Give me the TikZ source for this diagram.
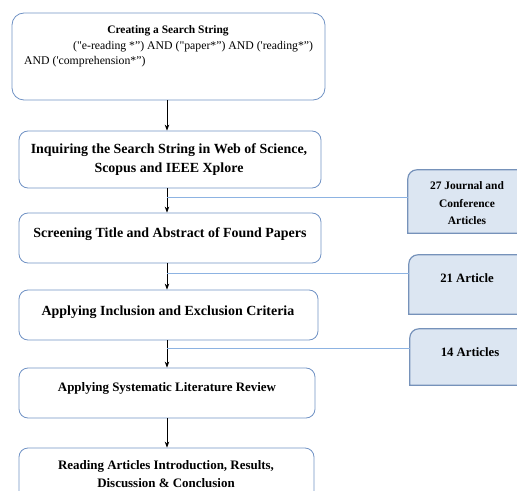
\documentclass[tikz,border=0pt]{standalone}
\usepackage{fontspec}
\setmainfont{Liberation Serif}[Ligatures=TeXOff]
\usetikzlibrary{arrows.meta}
\definecolor{boxc}{RGB}{112,146,196}
\definecolor{linec}{RGB}{141,179,226}
\definecolor{rboxc}{RGB}{118,146,186}
\definecolor{rfill}{RGB}{220,230,242}
\begin{document}
\begin{tikzpicture}[x=1bp,y=-1bp,
 box/.style={draw=boxc, line width=0.8bp, rounded corners=9bp, inner sep=0},
 txt/.style={font=\bfseries\fontsize{14}{19}\selectfont, align=center, inner sep=0},
 stxt/.style={font=\fontsize{11.8}{15.5}\selectfont, inner sep=0},
 arr/.style={-{Stealth[length=6bp,width=4.5bp]}, line width=0.8bp},
 link/.style={draw=linec, line width=1bp},
 rbox/.style={draw=rboxc, fill=rfill, line width=1.2bp},
 rtxt/.style={font=\bfseries\fontsize{11.5}{17.5}\selectfont, align=center, inner sep=0}]
\useasboundingbox (0,0) rectangle (517,491);
\clip (0,0) rectangle (517,491);

% main boxes
\node[box, rounded corners=12bp, minimum width=313bp, minimum height=87bp] (b1) at (168.5,56.5) {};
\node[box, minimum width=302bp, minimum height=57bp] (b2) at (170,159.5) {};
\node[box, minimum width=302bp, minimum height=50bp] (b3) at (170,238) {};
\node[box, minimum width=299bp, minimum height=50bp] (b4) at (168.5,315) {};
\node[box, minimum width=296bp, minimum height=50bp] (b5) at (167,393) {};
\node[box, minimum width=295bp, minimum height=52bp] (b6) at (166.5,474) {};

% texts
\node[stxt, font=\bfseries\fontsize{11.5}{15.5}\selectfont] (t1a) at (168,31) {Creating a Search String};
\node[stxt, anchor=west] (t1b) at (73,47) {("e-reading *”) AND ("paper*”) AND ('reading*”)};
\node[stxt, anchor=west] (t1c) at (24,62) {AND ('comprehension*”)};
\node[txt] (t2) at (169,159.5) {Inquiring the Search String in Web of Science,\\Scopus and IEEE Xplore};
\node[txt] (t3) at (170,234) {Screening Title and Abstract of Found Papers};
\node[txt] (t4) at (168,312) {Applying Inclusion and Exclusion Criteria};
\node[txt, font=\bfseries\fontsize{13}{18}\selectfont] (t5) at (167,388) {Applying Systematic Literature Review};
\node[txt, font=\bfseries\fontsize{13}{18}\selectfont] (t6) at (166,474) {Reading Articles Introduction, Results,\\Discussion \& Conclusion};

% arrows
\coordinate (ax) at (167,0);
\draw[arr] (b1.south -| ax) -- (b2.north -| ax);
\draw[arr] (b2.south -| ax) -- (b3.north -| ax);
\draw[arr] (b3.south -| ax) -- (b4.north -| ax);
\draw[arr] (b4.south -| ax) -- (b5.north -| ax);
\draw[arr] (b5.south -| ax) -- (b6.north -| ax);

% right boxes
\node[minimum width=122bp, minimum height=63bp, inner sep=0] (bA) at (469,201.5) {};
\node[minimum width=121bp, minimum height=59bp, inner sep=0] (bB) at (469.5,284.5) {};
\node[minimum width=120bp, minimum height=56bp, inner sep=0] (bC) at (470,357) {};
\foreach \b in {bA,bB,bC}{
  \draw[rbox] (\b.south west) -- ([yshift=-9bp]\b.north west) arc[start angle=180, end angle=90, radius=9bp] -- (\b.north east) -- (\b.south east) -- cycle;
}
\node[rtxt] (tA) at (467,203.5) {27 Journal and\\Conference\\Articles};
\node[rtxt, font=\bfseries\fontsize{12.8}{17.5}\selectfont] (tB) at (467,278) {21 Article};
\node[rtxt, font=\bfseries\fontsize{12.8}{17.5}\selectfont] (tC) at (470,352) {14 Articles};

% links
\coordinate (jA) at (167,197);
\coordinate (jB) at (167,273);
\coordinate (jC) at (167,348);
\draw[link] (jA) -- (bA.west |- jA);
\draw[link] (jB) -- (bB.west |- jB);
\draw[link] (jC) -- (bC.west |- jC);
\end{tikzpicture}
\end{document}
